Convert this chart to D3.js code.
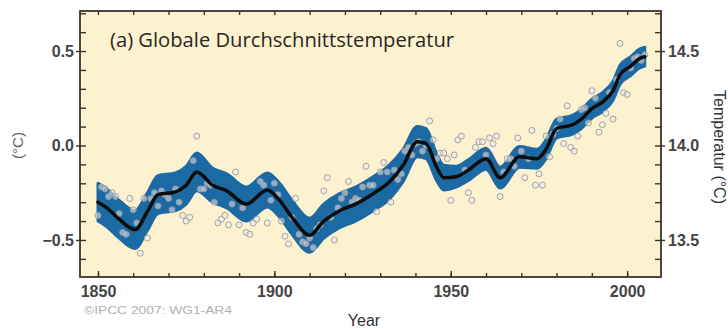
<!DOCTYPE html>
<html>
<head>
<meta charset="utf-8">
<script src="https://cdn.jsdelivr.net/npm/d3@7"></script>
<style>
    body { margin: 0; background: #ffffff; }
    svg { display: block; }
</style>
</head>
<body>
<div id="chart"></div>
<script>
// annual global mean anomalies (°C), one value per year from firstYear on
const firstYear = 1850;
const annualAnomaly = [
    -0.37, -0.22, -0.23, -0.27, -0.25, -0.27, -0.36, -0.46, -0.47, -0.28,
    -0.34, -0.41, -0.57, -0.28, -0.49, -0.28, -0.25, -0.32, -0.24, -0.26,
    -0.28, -0.34, -0.23, -0.30, -0.37, -0.40, -0.38, -0.08, 0.05, -0.23,
    -0.23, -0.20, -0.21, -0.30, -0.41, -0.39, -0.37, -0.42, -0.31, -0.14,
    -0.42, -0.33, -0.46, -0.47, -0.41, -0.39, -0.19, -0.21, -0.41, -0.29,
    -0.20, -0.26, -0.40, -0.48, -0.52, -0.38, -0.28, -0.47, -0.51, -0.52,
    -0.49, -0.54, -0.44, -0.42, -0.24, -0.17, -0.38, -0.50, -0.33, -0.28,
    -0.25, -0.19, -0.30, -0.28, -0.29, -0.22, -0.11, -0.21, -0.21, -0.35,
    -0.14, -0.09, -0.14, -0.30, -0.13, -0.18, -0.15, -0.03, -0.01, -0.05,
    0.01, 0.02, -0.03, 0.00, 0.13, 0.03, -0.07, -0.04, -0.04, -0.07,
    -0.29, -0.05, 0.03, 0.05, -0.13, -0.25, -0.29, -0.01, 0.02, 0.02,
    -0.05, 0.04, 0.01, 0.05, -0.27, -0.14, -0.07, -0.07, -0.11, 0.04,
    -0.03, -0.17, -0.07, 0.08, -0.21, -0.15, -0.21, 0.05, -0.06, 0.06,
    0.09, 0.14, 0.01, 0.21, -0.01, -0.03, 0.05, 0.19, 0.20, 0.12,
    0.29, 0.25, 0.07, 0.11, 0.17, 0.28, 0.14, 0.35, 0.54, 0.28,
    0.27, 0.41, 0.46, 0.47, 0.45, 0.48
];

// smoothed decadal curve and half width of the blue uncertainty band
const smoothYears = [
    1850, 1852.5, 1856, 1860.5, 1864, 1867, 1872, 1875, 1878, 1882.5,
    1886.5, 1892, 1898, 1901.5, 1905, 1910, 1914, 1918.5, 1923, 1928,
    1932.5, 1936.5, 1940.5, 1943, 1946, 1948, 1951.5, 1955, 1960, 1964,
    1969.5, 1974.5, 1977, 1980, 1984.5, 1987, 1990, 1993, 1996, 1998,
    2001, 2003.5, 2005
];
const smoothAnomaly = [
    -0.30, -0.33, -0.39, -0.445, -0.35, -0.26, -0.245, -0.21, -0.14, -0.21,
    -0.24, -0.31, -0.235, -0.29, -0.38, -0.475, -0.40, -0.345, -0.31, -0.255,
    -0.195, -0.105, 0.02, 0.01, -0.115, -0.17, -0.165, -0.13, -0.07, -0.17,
    -0.06, -0.07, -0.02, 0.09, 0.11, 0.14, 0.195, 0.23, 0.29, 0.375,
    0.42, 0.46, 0.47
];
const bandHalfWidth = [
    0.10, 0.10, 0.10, 0.10, 0.10, 0.10, 0.10, 0.10, 0.10, 0.09,
    0.09, 0.09, 0.09, 0.09, 0.09, 0.09, 0.09, 0.09, 0.09, 0.09,
    0.09, 0.085, 0.08, 0.08, 0.07, 0.065, 0.055, 0.055, 0.055, 0.055,
    0.055, 0.05, 0.05, 0.05, 0.05, 0.05, 0.05, 0.05, 0.05, 0.05,
    0.05, 0.05, 0.05
];

const yearTicks = [ 1850, 1900, 1950, 2000 ];
const anomalyTicks = [ -0.5, 0.0, 0.5 ];
const absoluteTicks = [ 13.5, 14.0, 14.5 ];
const baseTemperature = 14.0;

const titleText = '(a) Globale Durchschnittstemperatur';
const leftLabel = '(°C)';
const rightLabel = 'Temperatur (°C)';
const xLabel = 'Year';
const creditText = '©IPCC 2007: WG1-AR4';

const margin = { top: 11, right: 67, bottom: 52, left: 80 };
const totalWidth = 728;
const totalHeight = 329;
const width = totalWidth - margin.left - margin.right;
const height = totalHeight - margin.top - margin.bottom;
const tickFont = '"Liberation Sans", Arial, sans-serif';

const svg = d3.select('#chart').append('svg')
    .attr('width', totalWidth)
    .attr('height', totalHeight);

const g = svg.append('g')
    .attr('transform', `translate(${margin.left},${margin.top})`);

const xScale = d3.scaleLinear()
    .domain([ 1844.9, 2009.6 ])
    .range([ 0, width ]);
const yScale = d3.scaleLinear()
    .domain([ -0.696, 0.712 ])
    .range([ height, 0 ]);
const yAbsScale = d3.scaleLinear()
    .domain(yScale.domain().map(d => d + baseTemperature))
    .range([ height, 0 ]);

const smoothData = smoothYears.map((yr, i) => ({ year: yr, value: smoothAnomaly[i], half: bandHalfWidth[i] }));
const annualData = annualAnomaly.map((v, i) => ({ year: firstYear + i, value: v }));

function drawBackground() {
    g.append('rect')
        .attr('width', width)
        .attr('height', height)
        .attr('fill', '#fdf2cf');
}

function drawBand() {
    const area = d3.area()
        .curve(d3.curveMonotoneX)
        .x(d => xScale(d.year))
        .y0(d => yScale(d.value - d.half))
        .y1(d => yScale(d.value + d.half));
    g.append('path')
        .datum(smoothData)
        .attr('fill', '#1b6aa4')
        .attr('stroke', '#1b6aa4')
        .attr('stroke-width', 3)
        .attr('stroke-linejoin', 'round')
        .attr('d', area);
}

function drawAnnualPoints() {
    g.append('g')
        .selectAll('circle')
        .data(annualData)
        .join('circle')
        .attr('cx', d => xScale(d.year))
        .attr('cy', d => yScale(d.value))
        .attr('r', 3)
        .attr('fill', '#e4ecf1')
        .attr('fill-opacity', 0.55)
        .attr('stroke', '#a0969a')
        .attr('stroke-width', 0.9);
}

function drawSmoothLine() {
    const line = d3.line()
        .curve(d3.curveMonotoneX)
        .x(d => xScale(d.year))
        .y(d => yScale(d.value));
    g.append('path')
        .datum(smoothData)
        .attr('fill', 'none')
        .attr('stroke', '#0d0d0d')
        .attr('stroke-width', 3.5)
        .attr('stroke-linecap', 'round')
        .attr('d', line);
}

function styleAxis(sel) {
    sel.select('.domain').remove();
    sel.selectAll('line').attr('stroke', '#3b3428').attr('stroke-width', 1.4);
    sel.selectAll('text')
        .attr('font-family', tickFont)
        .attr('font-size', 16)
        .attr('font-weight', 'bold')
        .attr('fill', '#444');
}

function drawAxes() {
    const minorYears = d3.range(1850, 2001, 10);
    const minorAnomaly = d3.range(-6, 8).map(d => d / 10);

    // bottom: labels plus small inward ticks
    g.append('g')
        .attr('transform', `translate(0,${height})`)
        .call(d3.axisBottom(xScale).tickValues(yearTicks).tickFormat(d3.format('d')).tickSize(0).tickPadding(9))
        .call(styleAxis);
    g.append('g')
        .attr('transform', `translate(0,${height})`)
        .call(d3.axisTop(xScale).tickValues(minorYears).tickFormat('').tickSize(4))
        .call(styleAxis);
    g.append('g')
        .attr('transform', `translate(0,${height})`)
        .call(d3.axisTop(xScale).tickValues(yearTicks).tickFormat('').tickSize(6))
        .call(styleAxis);
    // top: inward ticks only
    g.append('g')
        .call(d3.axisBottom(xScale).tickValues(minorYears).tickFormat('').tickSize(4))
        .call(styleAxis);

    // left
    g.append('g')
        .call(d3.axisLeft(yScale).tickValues(anomalyTicks).tickFormat(d3.format('.1f')).tickSize(4).tickPadding(2))
        .call(styleAxis);
    g.append('g')
        .call(d3.axisRight(yScale).tickValues(minorAnomaly).tickFormat('').tickSize(6))
        .call(styleAxis);

    // right, absolute temperature
    g.append('g')
        .attr('transform', `translate(${width},0)`)
        .call(d3.axisRight(yAbsScale).tickValues(absoluteTicks).tickFormat(d3.format('.1f')).tickSize(4).tickPadding(3))
        .call(styleAxis);
    g.append('g')
        .attr('transform', `translate(${width},0)`)
        .call(d3.axisLeft(yAbsScale).tickValues(minorAnomaly.map(d => d + baseTemperature)).tickFormat('').tickSize(6))
        .call(styleAxis);
}

function drawFrame() {
    g.append('rect')
        .attr('width', width)
        .attr('height', height)
        .attr('fill', 'none')
        .attr('stroke', '#3b3428')
        .attr('stroke-width', 1.8);
}

function drawTexts() {
    g.append('text')
        .attr('x', 30)
        .attr('y', 36)
        .attr('font-family', '"Open Sans", "Noto Sans", sans-serif')
        .attr('font-size', 20)
        .attr('fill', '#2a2622')
        .attr('textLength', 344)
        .attr('lengthAdjust', 'spacingAndGlyphs')
        .text(titleText);

    svg.append('text')
        .attr('transform', `translate(23,${margin.top + yScale(0)}) rotate(-90)`)
        .attr('text-anchor', 'middle')
        .attr('font-family', tickFont)
        .attr('font-size', 15)
        .attr('fill', '#666')
        .text(leftLabel);

    svg.append('text')
        .attr('transform', `translate(714,147) rotate(90)`)
        .attr('text-anchor', 'middle')
        .attr('font-family', tickFont)
        .attr('font-size', 16)
        .attr('fill', '#333')
        .text(rightLabel);

    svg.append('text')
        .attr('x', 364)
        .attr('y', 326)
        .attr('text-anchor', 'middle')
        .attr('font-family', tickFont)
        .attr('font-size', 16)
        .attr('fill', '#333')
        .text(xLabel);

    svg.append('text')
        .attr('x', 84)
        .attr('y', 314)
        .attr('font-family', tickFont)
        .attr('font-size', 11)
        .attr('fill', '#b0b0b0')
        .attr('textLength', 148)
        .attr('lengthAdjust', 'spacingAndGlyphs')
        .text(creditText);
}

drawBackground();
drawBand();
drawAnnualPoints();
drawSmoothLine();
drawAxes();
drawFrame();
drawTexts();
</script>
</body>
</html>
